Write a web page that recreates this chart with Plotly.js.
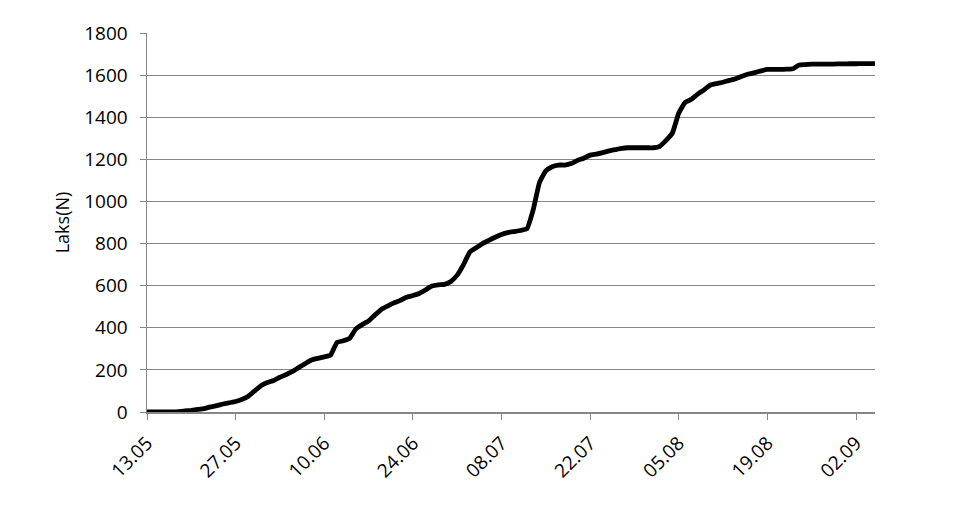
<!DOCTYPE html>
<html>
<head>
<meta charset="utf-8">
<script src="https://cdn.plot.ly/plotly-3.0.1.min.js"></script>
<style>html,body{margin:0;padding:0;background:#fff}#chart{width:960px;height:505px}</style>
</head>
<body>
<div id="chart"></div>
<script>
var dates = [
  "2013-05-13","2013-05-14","2013-05-15","2013-05-16","2013-05-17","2013-05-18","2013-05-19","2013-05-20","2013-05-21","2013-05-22",
  "2013-05-23","2013-05-24","2013-05-25","2013-05-26","2013-05-27","2013-05-28","2013-05-29","2013-05-30","2013-05-31",
  "2013-06-01","2013-06-02","2013-06-03","2013-06-04","2013-06-05","2013-06-06","2013-06-07","2013-06-08","2013-06-09","2013-06-10",
  "2013-06-11","2013-06-12","2013-06-13","2013-06-14","2013-06-15","2013-06-16","2013-06-17","2013-06-18","2013-06-19","2013-06-20",
  "2013-06-21","2013-06-22","2013-06-23","2013-06-24","2013-06-25","2013-06-26","2013-06-27","2013-06-28","2013-06-29","2013-06-30",
  "2013-07-01","2013-07-02","2013-07-03","2013-07-04","2013-07-05","2013-07-06","2013-07-07","2013-07-08","2013-07-09","2013-07-10",
  "2013-07-11","2013-07-12","2013-07-13","2013-07-14","2013-07-15","2013-07-16","2013-07-17","2013-07-18","2013-07-19","2013-07-20",
  "2013-07-21","2013-07-22","2013-07-23","2013-07-24","2013-07-25","2013-07-26","2013-07-27","2013-07-28","2013-07-29","2013-07-30","2013-07-31",
  "2013-08-01","2013-08-02","2013-08-03","2013-08-04","2013-08-05","2013-08-06","2013-08-07","2013-08-08","2013-08-09","2013-08-10",
  "2013-08-11","2013-08-12","2013-08-13","2013-08-14","2013-08-15","2013-08-16","2013-08-17","2013-08-18","2013-08-19","2013-08-20",
  "2013-08-21","2013-08-22","2013-08-23","2013-08-24","2013-08-25","2013-08-26","2013-08-27","2013-08-28","2013-08-29","2013-08-30","2013-08-31",
  "2013-09-01","2013-09-02","2013-09-03","2013-09-04","2013-09-05"
];

var laks = [
  0,0,0,0,0,2,5,8,12,16,
  24,30,38,44,50,60,75,100,125,
  140,150,165,178,193,212,230,247,255,262,
  270,330,338,350,395,415,432,460,487,503,
  518,530,545,553,563,580,598,604,606,620,
  650,700,760,780,800,815,830,843,852,857,
  862,870,960,1090,1145,1165,1173,1173,1180,1195,
  1205,1220,1225,1232,1240,1246,1252,1255,1255,1255,1255,
  1255,1262,1290,1325,1420,1470,1485,1510,1530,1553,
  1560,1566,1575,1583,1595,1605,1612,1620,1627,1627,
  1627,1628,1630,1648,1650,1652,1652,1652,1652,1653,1653,
  1654,1654,1655,1655,1655
];

var xTickVals = ["2013-05-13","2013-05-27","2013-06-10","2013-06-24","2013-07-08","2013-07-22","2013-08-05","2013-08-19","2013-09-02"];
var xTickText = ["13.05","27.05","10.06","24.06","08.07","22.07","05.08","19.08","02.09"];
var yTickVals = [0,200,400,600,800,1000,1200,1400,1600,1800];
var yTitle = "Laks(N)";

var trace = {
  x: dates,
  y: laks,
  type: "scatter",
  mode: "lines",
  line: {color: "#000000", width: 4.8, shape: "spline", smoothing: 0.4},
  hoverinfo: "skip"
};

var font = {family: "'Open Sans', 'Liberation Sans', sans-serif", size: 19, color: "#000000"};

var layout = {
  width: 960,
  height: 505,
  margin: {l: 147, r: 85, t: 33, b: 93},
  paper_bgcolor: "#ffffff",
  plot_bgcolor: "#ffffff",
  showlegend: false,
  font: font,
  xaxis: {
    type: "date",
    range: ["2013-05-13", "2013-09-05"],
    tickmode: "array",
    tickvals: xTickVals,
    ticktext: xTickText,
    tickangle: -45,
    ticks: "outside",
    ticklen: 6,
    tickwidth: 1,
    tickcolor: "#868686",
    ticklabelstandoff: 5,
    showline: true,
    linecolor: "#868686",
    linewidth: 1.5,
    showgrid: false,
    zeroline: false,
    tickfont: font,
    fixedrange: true
  },
  yaxis: {
    range: [0, 1800],
    tickmode: "array",
    tickvals: yTickVals,
    ticks: "outside",
    ticklen: 6,
    tickwidth: 1,
    tickcolor: "#868686",
    ticklabelstandoff: 8,
    showline: true,
    linecolor: "#868686",
    linewidth: 1.5,
    showgrid: true,
    gridcolor: "#868686",
    gridwidth: 1,
    zeroline: false,
    tickfont: font,
    title: {text: yTitle, font: {family: font.family, size: 18, color: "#000000"}, standoff: 10},
    fixedrange: true
  }
};

Plotly.newPlot("chart", [trace], layout, {staticPlot: true, displayModeBar: false});
</script>
</body>
</html>
